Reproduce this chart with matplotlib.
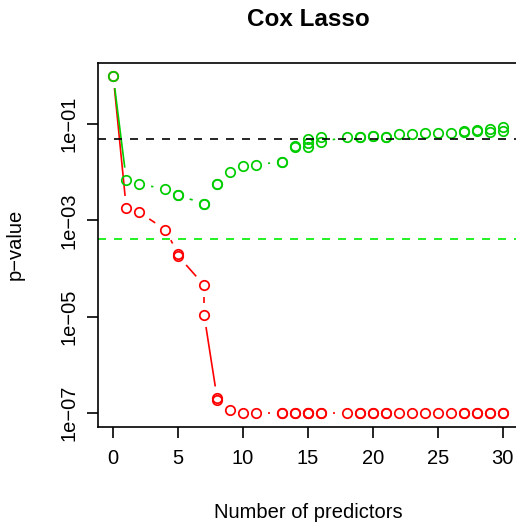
import numpy as np
import matplotlib
matplotlib.use("Agg")
import matplotlib.pyplot as plt

plt.rcParams["font.family"] = ["Liberation Sans", "DejaVu Sans"]

# number of predictors along the lasso path (shared by both tests)
n_pred = [0, 1, 2, 4, 5, 5, 7, 7, 8, 8, 9, 10, 11, 13, 13, 14, 14,
          15, 15, 15, 16, 16, 18, 19, 19, 20, 20, 21, 21, 22, 23, 24,
          25, 26, 27, 27, 28, 28, 29, 29, 30, 30]

# log10 p-values, green series
log_p_green = [0.0, -2.15, -2.25, -2.34, -2.48, -2.48, -2.65, -2.66,
               -2.24, -2.25, -1.99, -1.87, -1.84, -1.78, -1.79, -1.46,
               -1.47, -1.30, -1.40, -1.47, -1.265, -1.37, -1.26, -1.26,
               -1.26, -1.245, -1.25, -1.27, -1.27, -1.20, -1.195, -1.19,
               -1.175, -1.175, -1.15, -1.155, -1.125, -1.13, -1.09, -1.16,
               -1.055, -1.14]

# log10 p-values, red series
log_p_red = [0.0, -2.74, -2.83, -3.19, -3.70, -3.74, -4.35, -4.97,
             -6.70, -6.73, -6.94, -7.00, -7.00, -7.00, -7.01, -7.00,
             -7.00, -7.00, -7.01, -7.00, -7.00, -7.00, -7.00, -7.00,
             -7.01, -7.00, -7.01, -7.00, -7.01, -7.00, -7.00, -7.00,
             -7.00, -7.00, -7.00, -7.01, -7.00, -7.01, -7.00, -7.01,
             -7.00, -7.00]

alpha_line = 0.05
alpha_adj = 0.05 / 120
x_ticks = [0, 5, 10, 15, 20, 25, 30]
y_ticks = [1e-1, 1e-3, 1e-5, 1e-7]
y_tick_labels = ["1e\u221201", "1e\u221203", "1e\u221205", "1e\u221207"]

x = np.array(n_pred, dtype=float)
p_green = 10 ** np.array(log_p_green)
p_red = 10 ** np.array(log_p_red)

W, H = 516, 523
fig = plt.figure(figsize=(W / 100, H / 100), dpi=100)
left, right, top, bottom = 97.7, 518.3, 62.7, 426.7
ax = fig.add_axes([left / W, 1 - bottom / H, (right - left) / W, (bottom - top) / H])
ax.set_yscale("log")

# R-style 4% padding on both axes
xlo, xhi = x.min(), x.max()
xp = 0.04 * (xhi - xlo)
ax.set_xlim(xlo - xp, xhi + xp)
lall = np.concatenate([log_p_green, log_p_red])
ylo, yhi = lall.min(), lall.max()
yp = 0.04 * (yhi - ylo)
ax.set_ylim(10 ** (ylo - yp), 10 ** (yhi + yp))


def type_b(ax, xs, ys, color, gap_px=12):
    # lines between points with a gap around each point, like R's type="b"
    pts = ax.transData.transform(np.column_stack([xs, ys]))
    inv = ax.transData.inverted()
    for (x0, y0), (x1, y1) in zip(pts[:-1], pts[1:]):
        d = np.hypot(x1 - x0, y1 - y0)
        if d <= 2 * gap_px:
            continue
        ux, uy = (x1 - x0) / d, (y1 - y0) / d
        a = inv.transform([x0 + ux * gap_px, y0 + uy * gap_px])
        b = inv.transform([x1 - ux * gap_px, y1 - uy * gap_px])
        ax.plot([a[0], b[0]], [a[1], b[1]], color=color, lw=1.2,
                solid_capstyle="butt")
    ax.plot(xs, ys, linestyle="none", marker="o", ms=6.8, mfc="none",
            mec=color, mew=1.25)


type_b(ax, x, p_red, "#FF0000")
type_b(ax, x, p_green, "#00CD00")

ax.axhline(alpha_line, color="black", lw=1.2, dashes=(4.8, 4.8))
ax.axhline(alpha_adj, color="#00EE00", lw=1.2, dashes=(4.8, 4.8))

for s in ax.spines.values():
    s.set_linewidth(1.2)
ax.spines["right"].set_visible(False)
ax.set_xticks(x_ticks)
ax.set_xticklabels([str(t) for t in x_ticks])
ax.set_yticks(y_ticks)
ax.set_yticklabels(y_tick_labels, rotation=90, va="center")
ax.minorticks_off()
ax.tick_params(axis="both", direction="out", length=8, width=1.2,
               labelsize=14.5, color="black")
ax.tick_params(axis="x", pad=8)
ax.tick_params(axis="y", pad=6)

cx = (left + right) / 2 / W
fig.text(cx, 1 - 19 / H, "Cox Lasso", ha="center", va="center",
         fontsize=17.5, fontweight="bold")
fig.text(cx, 1 - 513 / H, "Number of predictors", ha="center",
         va="center", fontsize=14.5)
fig.text(15 / W, 1 - (top + bottom) / 2 / H, "p\u2212value", ha="center",
         va="center", rotation=90, fontsize=14.5)

fig.savefig("out.png", dpi=100)
